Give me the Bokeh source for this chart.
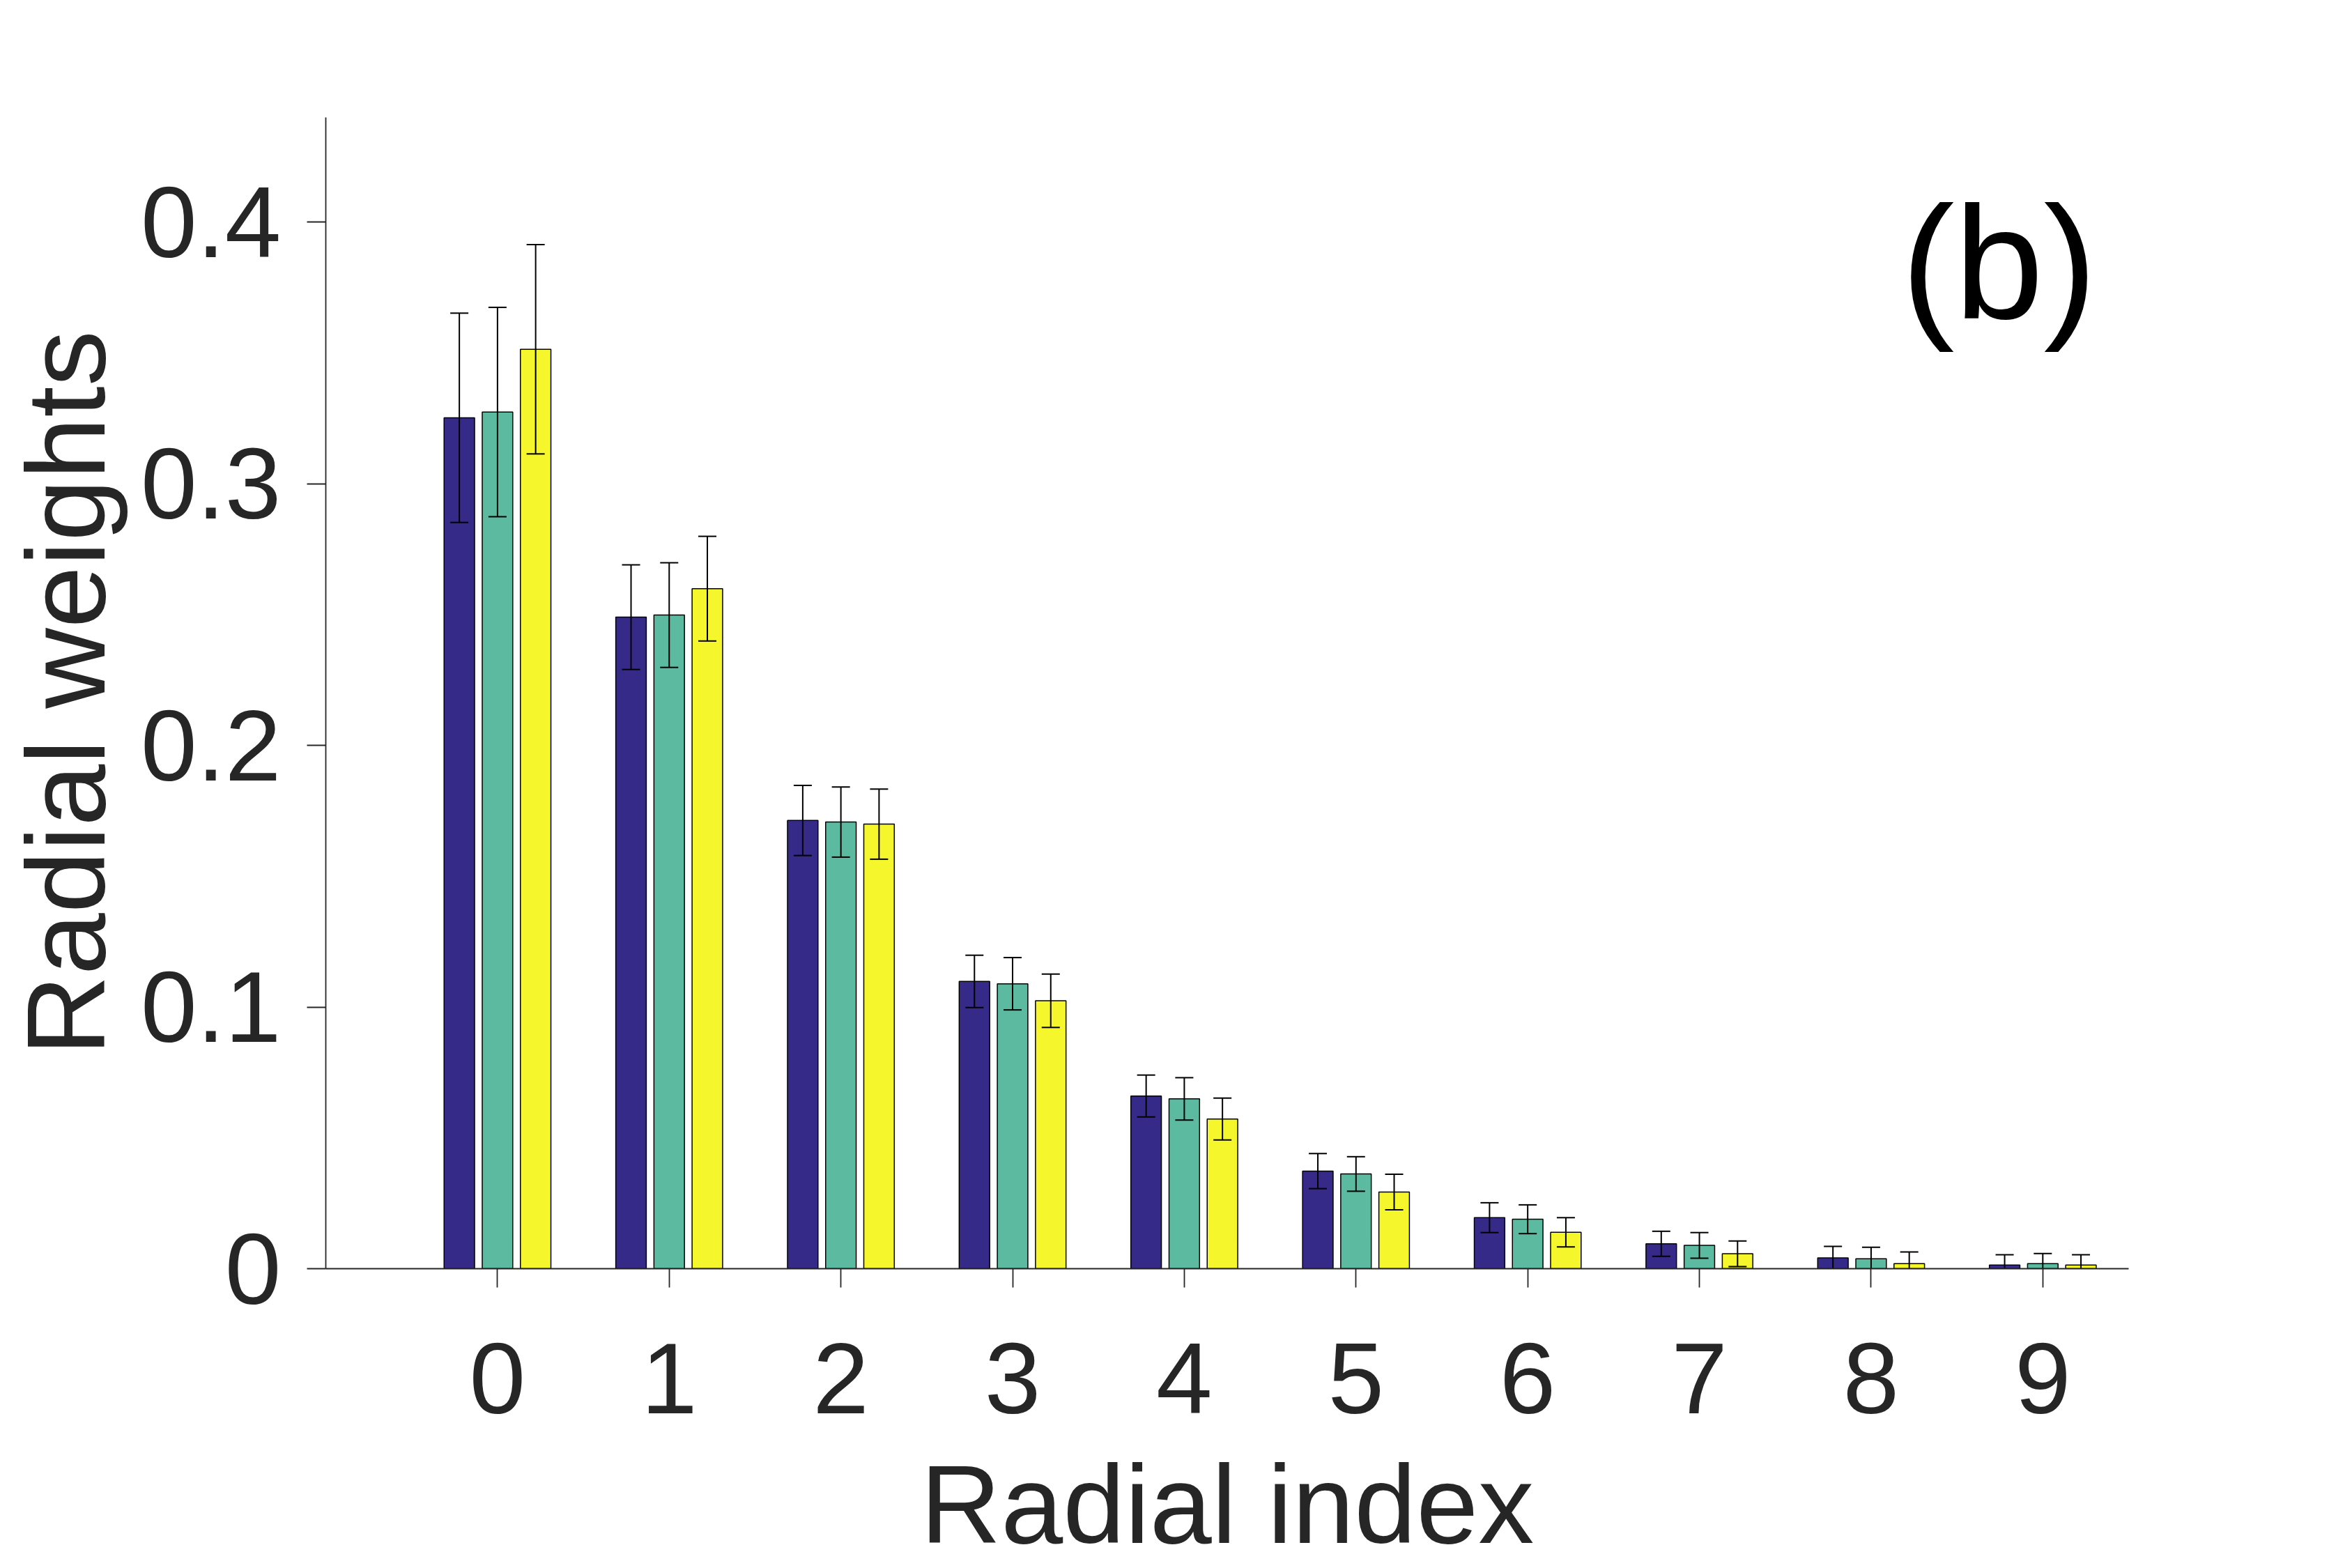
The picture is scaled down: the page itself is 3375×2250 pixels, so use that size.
import numpy as np
from bokeh.plotting import figure
from bokeh.models import ColumnDataSource, FixedTicker, CustomJSTickFormatter, Range1d
from bokeh.core.properties import value
from bokeh.embed import file_html
from bokeh.resources import INLINE

# ---- data ----
radial_index = [0, 1, 2, 3, 4, 5, 6, 7, 8, 9]
series_a = [0.3252, 0.2490, 0.1713, 0.1098, 0.0660, 0.0373, 0.0195, 0.0095, 0.0041, 0.0014]
series_a_err = [0.0400, 0.0200, 0.0134, 0.0100, 0.0080, 0.0067, 0.0057, 0.0048, 0.0044, 0.0039]
series_b = [0.3274, 0.2498, 0.1707, 0.1089, 0.0649, 0.0362, 0.0189, 0.0089, 0.0038, 0.0019]
series_b_err = [0.0400, 0.0200, 0.0134, 0.0100, 0.0081, 0.0066, 0.0055, 0.0049, 0.0044, 0.0039]
series_c = [0.3514, 0.2599, 0.1699, 0.1024, 0.0572, 0.0293, 0.0139, 0.0057, 0.0019, 0.0014]
series_c_err = [0.0400, 0.0200, 0.0134, 0.0102, 0.0080, 0.0068, 0.0056, 0.0049, 0.0045, 0.0039]
y_ticks = [0, 0.1, 0.2, 0.3, 0.4]
panel_label = "(b)"
x_title = "Radial index"
y_title = "Radial weights"

colors = ["#352A87", "#5BBA9F", "#F6F62C"]
FONT = "Liberation Sans"
TXT = "#262626"

x_lo, x_hi = -1, 9.5
p = figure(width=3375, height=2250, output_backend="svg", toolbar_location=None,
           x_range=Range1d(x_lo, x_hi), y_range=Range1d(0, 0.44),
           min_border_left=467, min_border_right=321, min_border_top=168, min_border_bottom=428)
p.background_fill_color = "white"
p.border_fill_color = "white"
p.outline_line_color = None
p.grid.visible = False

group_w = 3 / (3 + 1.5)
offset = group_w / 3
bar_w = offset * 0.8

x = np.array(radial_index, dtype=float)
for i, (vals, errs) in enumerate([(series_a, series_a_err), (series_b, series_b_err), (series_c, series_c_err)]):
    xs = x + (i - 1) * offset
    v = np.array(vals)
    e = np.array(errs)
    src = ColumnDataSource(dict(x=xs, top=v, upper=v + e, lower=v - e))
    p.vbar(x="x", top="top", bottom=0, width=bar_w, source=src,
           fill_color=colors[i], line_color="black", line_width=1.5)
    p.segment(x0="x", y0="lower", x1="x", y1="upper", source=src,
              line_color="black", line_width=2)
    p.scatter(x="x", y="upper", source=src, marker="dash", size=26,
              line_color="black", line_width=2)
    p.scatter(x="x", y="lower", source=src, marker="dash", size=26,
              line_color="black", line_width=2)

p.text(x=[8.745], y=[0.3843], text=[panel_label], text_font=value(FONT),
       text_font_size="230px", text_align="center", text_baseline="middle",
       text_color="black")

for ax in (p.xaxis[0], p.yaxis[0]):
    ax.axis_line_color = TXT
    ax.axis_line_width = 1.8
    ax.major_tick_line_color = TXT
    ax.major_tick_line_width = 1.8
    ax.major_tick_in = 0
    ax.major_tick_out = 27
    ax.minor_tick_line_color = None
    ax.major_label_text_font = FONT
    ax.major_label_text_font_size = "145px"
    ax.major_label_text_color = TXT
    ax.axis_label_text_font = FONT
    ax.axis_label_text_font_size = "160px"
    ax.axis_label_text_color = TXT
    ax.axis_label_text_font_style = "normal"

p.xaxis.ticker = FixedTicker(ticks=radial_index)
p.yaxis.ticker = FixedTicker(ticks=y_ticks)
p.yaxis.formatter = CustomJSTickFormatter(code="return tick.toFixed(1).replace(/\\.0$/, '');")
p.xaxis.axis_label = x_title
p.yaxis.axis_label = y_title
p.xaxis.major_label_standoff = 80
p.xaxis.axis_label_standoff = 38
p.yaxis.major_label_standoff = 37
p.yaxis.axis_label_standoff = 15

open("out.html", "w").write(file_html(p, INLINE))
